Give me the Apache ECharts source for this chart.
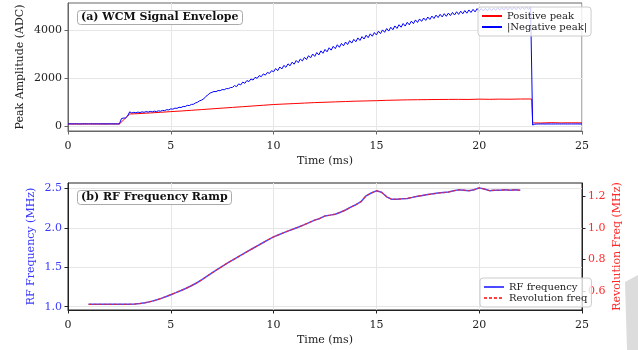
<!DOCTYPE html>
<html>
<head>
<meta charset="utf-8">
<script src="https://cdn.jsdelivr.net/npm/echarts@6/dist/echarts.min.js"></script>
<style>
  html, body { margin: 0; padding: 0; background: #fff; }
  #chart { width: 638px; height: 350px; }
</style>
</head>
<body>
<div id="chart"></div>
<script>
// tick labels
const timeTicks = [0, 5, 10, 15, 20, 25]
const ampTicks = [0, 2000, 4000]
const rfTicks = [1.0, 1.5, 2.0, 2.5]
const revTicks = [0.6, 0.8, 1.0, 1.2]

// (a) positive peak, sampled by hand
const posTime = [0, 0.5, 1, 1.5, 2, 2.5, 3.0, 3.25, 3.5, 4, 4.5, 5, 5.5, 6, 6.5, 7, 7.5, 8, 8.5, 9, 9.5, 10,
  10.5, 11, 11.5, 12, 12.5, 13, 13.5, 14, 14.5, 15, 15.5, 16, 16.5, 17, 17.5, 18, 18.5, 19, 19.5, 20, 20.5,
  21, 21.5, 22, 22.55, 22.6, 23, 23.5, 24, 24.5, 25]
const posPeak = [85, 82, 86, 83, 85, 84, 500, 510, 520, 545, 570, 600, 625, 655, 685, 715, 745, 775, 805, 835, 865, 895,
  915, 935, 955, 975, 990, 1005, 1020, 1035, 1045, 1055, 1070, 1080, 1090, 1095, 1100, 1105, 1108, 1110, 1106, 1120, 1112,
  1120, 1116, 1125, 1125, 130, 125, 140, 130, 135, 130]

// (a) |negative peak|, one value every 0.1 ms from 0 to 25 ms
const negStep = 0.1
const negPeak = [
  88, 90, 87, 89, 91, 88, 86, 89, 90, 88, 87, 90, 89, 88, 91, 87, 89, 90, 88, 86, 89, 90, 88, 89, 87, 90,
  310, 330, 335, 420, 590,
  545, 570, 550, 580, 560, 590, 570, 600, 580, 610, 590, 620, 600, 635, 615, 650, 640, 680, 670, 715,
  700, 745, 735, 780, 770, 815, 810, 860, 850, 900, 905, 960, 990, 1050, 1080,
  1130, 1230, 1290, 1370, 1400, 1440, 1430, 1480, 1470, 1520, 1510, 1560, 1555, 1600, 1610,
  1685, 1640, 1755, 1710, 1830, 1780, 1895, 1850, 1960, 1915, 2030, 1985, 2100, 2055, 2170, 2120, 2235, 2190, 2305, 2260,
  2395, 2305, 2460, 2375, 2525, 2445, 2590, 2510, 2660, 2575, 2730, 2640, 2790, 2710, 2860, 2770, 2930, 2840,
  3000, 2900, 3060, 2960, 3130, 3030, 3190, 3090, 3260, 3160, 3320, 3225,
  3385, 3280, 3440, 3340, 3500, 3395, 3555, 3455, 3610, 3510, 3670, 3565, 3725, 3625, 3785, 3680, 3840, 3740, 3895, 3795,
  3950, 3850, 4005, 3905, 4060, 3955, 4115, 4010, 4170, 4065,
  4220, 4115, 4270, 4165, 4320, 4215, 4370, 4265, 4420, 4315,
  4460, 4360, 4500, 4400, 4540, 4440, 4580, 4480, 4620, 4520,
  4655, 4545, 4680, 4570, 4705, 4600, 4730, 4625, 4760, 4650,
  4785, 4675, 4810, 4700, 4835, 4730, 4860, 4755, 4890, 4780,
  4900, 4790, 4905, 4800, 4915, 4805, 4920, 4815, 4930, 4825,
  4940, 4830, 4945, 4835, 4950, 4840, 4950, 4845, 4955, 4850, 4955, 4850, 4960, 4855, 4960,
  40, 75, 82, 85, 84, 86, 83, 85, 86, 84, 85, 83, 86, 85, 84, 86, 85, 83, 85, 86, 84, 85, 86, 84, 85
]

// (b) RF and revolution frequency, one value every 0.25 ms from 1 ms
const rfStart = 1.0
const rfStep = 0.25
const rfFreq = [
  1.030, 1.030, 1.030, 1.031, 1.030, 1.030, 1.031, 1.030, 1.031, 1.033,
  1.040, 1.050, 1.064, 1.082, 1.102, 1.126, 1.152, 1.178, 1.205, 1.233,
  1.265, 1.300, 1.340, 1.385, 1.428, 1.470, 1.512, 1.553, 1.590, 1.628,
  1.665, 1.703, 1.740, 1.777, 1.813, 1.850, 1.885, 1.912, 1.938, 1.963,
  1.988, 2.013, 2.040, 2.068, 2.097, 2.118, 2.150, 2.160, 2.172, 2.197,
  2.225, 2.262, 2.292, 2.330, 2.405, 2.440, 2.468, 2.450, 2.392, 2.360,
  2.362, 2.366, 2.372, 2.385, 2.400, 2.410, 2.420, 2.430, 2.440, 2.446,
  2.452, 2.468, 2.480, 2.476, 2.470, 2.482, 2.505, 2.490, 2.470, 2.476,
  2.475, 2.480, 2.476, 2.480, 2.476
]
const revFreq = [
  0.515, 0.515, 0.515, 0.5155, 0.515, 0.515, 0.5155, 0.515, 0.5155, 0.5165,
  0.520, 0.525, 0.532, 0.541, 0.551, 0.563, 0.576, 0.589, 0.6025, 0.6165,
  0.6325, 0.650, 0.670, 0.6925, 0.714, 0.735, 0.756, 0.7765, 0.795, 0.814,
  0.8325, 0.8515, 0.870, 0.8885, 0.9065, 0.925, 0.9425, 0.956, 0.969, 0.9815,
  0.994, 1.0065, 1.020, 1.034, 1.0485, 1.059, 1.075, 1.080, 1.086, 1.0985,
  1.1125, 1.131, 1.146, 1.165, 1.2025, 1.220, 1.234, 1.225, 1.196, 1.180,
  1.181, 1.183, 1.186, 1.1925, 1.200, 1.205, 1.210, 1.215, 1.220, 1.223,
  1.226, 1.234, 1.240, 1.238, 1.235, 1.241, 1.2525, 1.245, 1.235, 1.238,
  1.2375, 1.240, 1.238, 1.240, 1.238
]

const serif = 'DejaVu Serif'
const ink = '#222'
const gridColor = '#e6e6e6'
const rfBlue = '#3a3aff'
const revRed = '#ff2b2b'

const posData = posTime.map((t, i) => [t, posPeak[i]])
const negData = negPeak.map((v, i) => [+(i * negStep).toFixed(2), v])
const rfData = rfFreq.map((v, i) => [rfStart + i * rfStep, v])
const revData = revFreq.map((v, i) => [rfStart + i * rfStep, v])

function timeAxis(gridIndex, frame) {
  return {
    type: 'value',
    gridIndex,
    min: 0,
    max: 25,
    interval: 5,
    name: 'Time (ms)',
    nameLocation: 'middle',
    nameGap: 25,
    nameMoveOverlap: false,
    nameTextStyle: { fontFamily: serif, fontSize: 11, color: ink },
    axisLine: { show: true, onZero: false, lineStyle: { color: frame } },
    axisTick: { show: true, length: 3.5, lineStyle: { color: frame } },
    axisLabel: { fontFamily: serif, fontSize: 11, color: ink, margin: 10 },
    splitLine: { show: true, lineStyle: { color: gridColor } },
  }
}

function valueAxis(opts) {
  const ticks = opts.ticks
  return {
    type: 'value',
    gridIndex: opts.grid,
    position: opts.position,
    min: opts.min,
    max: opts.max,
    name: opts.name,
    nameLocation: 'middle',
    nameGap: opts.nameGap,
    nameMoveOverlap: false,
    nameTextStyle: { fontFamily: serif, fontSize: 11, color: opts.nameColor },
    axisLine: { show: true, lineStyle: { color: opts.frame } },
    axisTick: { show: true, length: 3.5, customValues: ticks, lineStyle: { color: opts.frame } },
    axisLabel: {
      fontFamily: serif,
      fontSize: 11,
      color: opts.labelColor,
      margin: 6,
      customValues: ticks,
      formatter: opts.fmt,
    },
    splitLine: { show: opts.split, lineStyle: { color: gridColor } },
  }
}

// itemHeight kept tiny so the line legend icon shows only its stroke
const legendStyle = {
  orient: 'vertical',
  padding: [4, 4, 4, 3],
  itemGap: 1,
  itemWidth: 20,
  itemHeight: 1,
  backgroundColor: 'rgba(255,255,255,0.8)',
  borderColor: '#cccccc',
  borderWidth: 1,
  borderRadius: 3,
  lineStyle: { width: 2 },
  textStyle: { fontFamily: serif, fontSize: 10, color: ink },
  z: 10,
}

const titleStyle = {
  backgroundColor: '#fff',
  borderColor: '#aaaaaa',
  borderWidth: 1,
  borderRadius: 3,
  padding: [2, 4],
  textStyle: { fontFamily: serif, fontWeight: 'bold', fontSize: 11, color: '#111' },
  z: 10,
}

const chart = echarts.init(document.getElementById('chart'))
chart.setOption({
  animation: false,
  backgroundColor: '#fff',
  title: [
    { ...titleStyle, text: '(a) WCM Signal Envelope', left: 77, top: 10 },
    { ...titleStyle, text: '(b) RF Frequency Ramp', left: 77, top: 190 },
  ],
  legend: [
    { ...legendStyle, left: 478, top: 7, data: ['Positive peak', '|Negative peak|'] },
    { ...legendStyle, left: 480, top: 278, data: ['RF frequency', 'Revolution freq'] },
  ],
  grid: [
    { left: 68, top: 3, width: 514, height: 128, show: true, borderColor: '#666', borderWidth: 1 },
    { left: 68, top: 183, width: 514, height: 127, show: true, borderColor: '#222', borderWidth: 1 },
  ],
  xAxis: [timeAxis(0, '#666'), timeAxis(1, '#222')],
  yAxis: [
    valueAxis({ grid: 0, position: 'left', min: -208, max: 5125, ticks: ampTicks, name: 'Peak Amplitude (ADC)',
      nameGap: 42, nameColor: ink, labelColor: ink, frame: '#666', split: true, fmt: v => String(v) }),
    valueAxis({ grid: 1, position: 'left', min: 0.958, max: 2.567, ticks: rfTicks, name: 'RF Frequency (MHz)',
      nameGap: 31, nameColor: rfBlue, labelColor: rfBlue, frame: '#222', split: true, fmt: v => v.toFixed(1) }),
    valueAxis({ grid: 1, position: 'right', min: 0.479, max: 1.2835, ticks: revTicks, name: 'Revolution Freq (MHz)',
      nameGap: 30, nameColor: revRed, labelColor: revRed, frame: '#222', split: false, fmt: v => v.toFixed(1) }),
  ],
  series: [
    {
      name: 'Positive peak', type: 'line', xAxisIndex: 0, yAxisIndex: 0, data: posData,
      symbol: 'none', lineStyle: { color: '#ff0000', width: 1 }, itemStyle: { color: '#ff0000' },
    },
    {
      name: '|Negative peak|', type: 'line', xAxisIndex: 0, yAxisIndex: 0, data: negData,
      symbol: 'none', lineStyle: { color: '#0000ff', width: 1 }, itemStyle: { color: '#0000ff' },
    },
    {
      name: 'RF frequency', type: 'line', xAxisIndex: 1, yAxisIndex: 1, data: rfData,
      symbol: 'none', lineStyle: { color: '#2b2bff', width: 1.5, opacity: 0.85 }, itemStyle: { color: '#2b2bff' },
    },
    {
      name: 'Revolution freq', type: 'line', xAxisIndex: 1, yAxisIndex: 2, data: revData,
      symbol: 'none', lineStyle: { color: '#ff2020', width: 1.2, type: [3, 2], opacity: 0.85 }, itemStyle: { color: '#ff2020' },
    },
  ],
  graphic: [
    {
      type: 'polygon',
      shape: { points: [[625, 282], [638, 275], [638, 350], [627, 350]] },
      style: { fill: '#dcdcdc' },
      silent: true,
    },
  ],
})
</script>
</body>
</html>
